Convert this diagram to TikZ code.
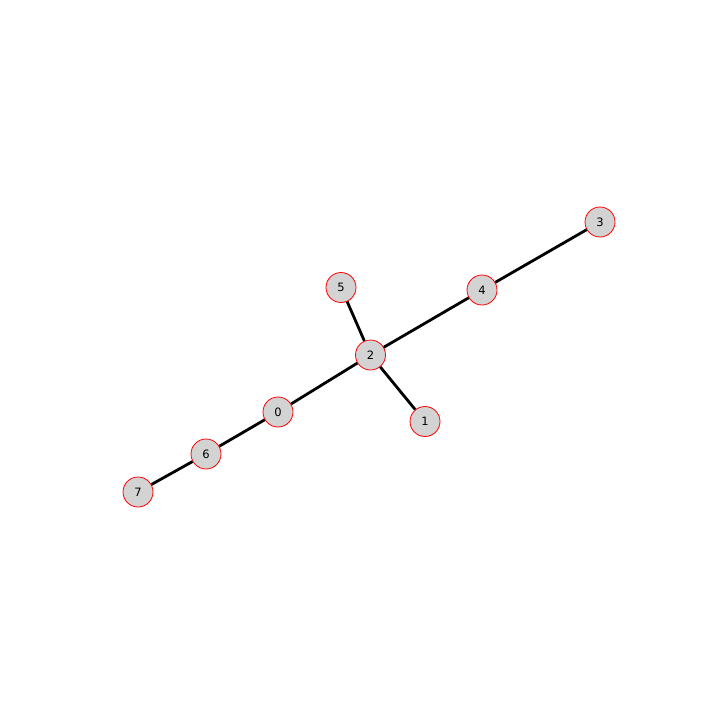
\documentclass[tikz,border=0pt]{standalone}
\usepackage{fontspec}
\setmainfont{DejaVu Sans}
\usepackage{tikz}
\definecolor{vertexgray}{RGB}{211,211,211}
\tikzset{
  vertex/.style={circle, draw=red, fill=vertexgray, line width=0.8pt, minimum size=30pt, inner sep=0pt, font=\fontsize{11.5}{13}\selectfont},
  edge/.style={black, line width=2.8pt}
}

\begin{document}
\begin{tikzpicture}[x=1pt, y=-1pt]

\useasboundingbox (0,0) rectangle (720,720);

\node[vertex] (n2) at (370.5,355) {2};
\node[vertex] (n3) at (600,222) {3};
\node[vertex] (n4) at (482,290) {4};
\node[vertex] (n5) at (341,287.5) {5};
\node[vertex] (n0) at (278,412) {0};
\node[vertex] (n1) at (425,421.5) {1};
\node[vertex] (n6) at (206,454) {6};
\node[vertex] (n7) at (138,492) {7};

% edges
\draw[edge] (n2) -- (n4); %2-4
\draw[edge] (n4) -- (n3); %4-3
\draw[edge] (n2) -- (n5); %2-5
\draw[edge] (n2) -- (n1); %2-1
\draw[edge] (n2) -- (n0); %2-0
\draw[edge] (n0) -- (n6); %0-6
\draw[edge] (n6) -- (n7); %6-7

\end{tikzpicture}
\end{document}
